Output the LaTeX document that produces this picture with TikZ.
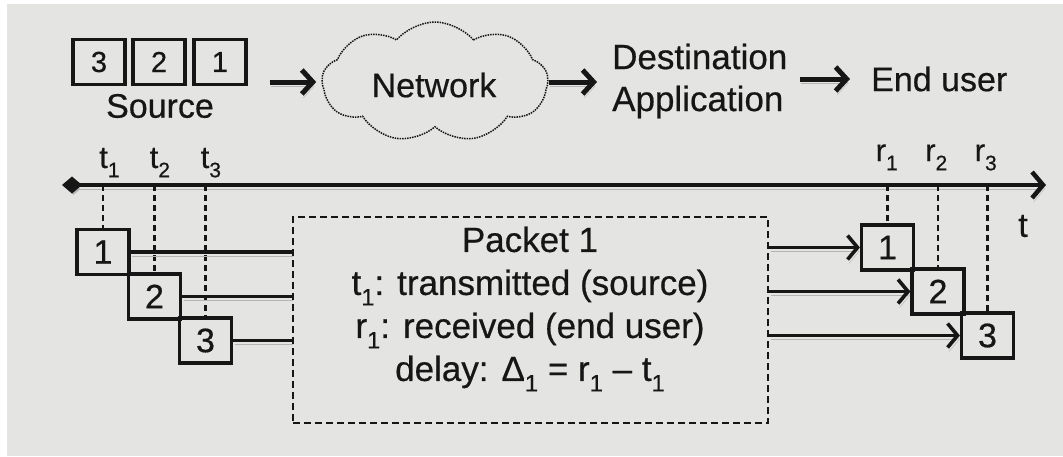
\documentclass[tikz,border=0pt]{standalone}
\usepackage{fontspec}
\setmainfont{Liberation Sans}[FakeBold=0.5]
\usetikzlibrary{arrows.meta,shapes.symbols}
\definecolor{paper}{HTML}{E4E4E2}
\definecolor{ink}{HTML}{161616}
\definecolor{halftone}{HTML}{B4B4B2}
% lowered, smaller index digit
\newcommand\lsub[1]{\raisebox{-0.3em}{\scalebox{0.68}{#1}}}

\begin{document}
\begin{tikzpicture}[x=1pt,y=-1pt,
  every node/.style={text=ink, font=\fontsize{34}{40}\selectfont},
  shade/.style={preaction={draw=halftone, transform canvas={shift={(1.5pt,-4pt)}}}},
  pkt/.style={draw=ink, line width=3.2pt, minimum width=52pt, minimum height=45pt, inner sep=0pt},
  srcpkt/.style={pkt, font=\fontsize{29}{32}\selectfont},
  bigarrow/.style={draw=ink, line width=5pt, -{Straight Barb[length=11pt,width=24pt]}, shade},
  axisline/.style={draw=ink, line width=4.5pt, {Diamond[length=20pt,width=17pt]}-{Straight Barb[length=11pt,width=26pt]}, shade},
  tick/.style={draw=ink, line width=2.6pt, dash pattern=on 6pt off 4pt},
  ticklabel/.style={font=\fontsize{31}{34}\selectfont, inner sep=0pt},
  conn/.style={draw=ink, line width=3.2pt, shade},
  rarrow/.style={draw=ink, line width=3.6pt, -{Straight Barb[length=10pt,width=24pt]}, shade},
  boxframe/.style={draw=ink, line width=2.6pt, dash pattern=on 7pt off 4pt, minimum width=475pt, minimum height=206pt, inner sep=0pt}
]
\useasboundingbox (0,0) rectangle (1063,456);
\fill[white] (0,0) rectangle (1063,456);
\fill[paper] (7,4) rectangle (1063,456);

% ---- top row: source, network, destination, end user
\node[srcpkt] (s3) at (99,62) {3};
\node[srcpkt] (s2) at (159,62) {2};
\node[srcpkt] (s1) at (220,62) {1};
\node[inner sep=0pt] (src) at (160,106) {Source};

\node[cloud, cloud puffs=9, cloud puff arc=100, aspect=1.9, draw=ink,
      densely dotted, line width=1.5pt, minimum width=226pt, minimum height=120pt,
      inner sep=0pt] (net) at (435,82) {};
\node (nettext) at (434,85) {Network};

\node[anchor=west, align=left, inner sep=0pt, font=\fontsize{35}{42}\selectfont] (dest) at (612,81) {Destination\\Application};
\node[anchor=west, inner sep=0pt] (user) at (871,79) {End user};

\draw[bigarrow, shorten <=22pt, shorten >=5pt] (s1.east |- net.west) -- (net.west);
\draw[bigarrow, shorten >=15pt] (net.east) -- (dest.west |- net.east);
\draw[bigarrow, shorten <=12pt, shorten >=21pt] (dest.east |- user.west) -- (user.west);

% ---- time axis
\coordinate (ax0) at (62,185);
\coordinate (ax1) at (1046,185);
\draw[axisline] (ax0) -- (ax1);
\node (tname) at (1023,226) {t};

% ---- packets leaving the source
\node[pkt] (b1) at (103,252) {1};
\node[pkt] (b2) at (154.5,296.5) {2};
\node[pkt] (b3) at (205.5,340.5) {3};

% ---- packets reaching the end user
\node[pkt] (e1) at (887.5,247.5) {1};
\node[pkt] (e2) at (938,291.5) {2};
\node[pkt] (e3) at (987.5,335.5) {3};

% ---- instants on the axis
\foreach \b in {b1,b2,b3,e1,e2,e3} {
  \draw[tick] (\b.north |- ax0) -- (\b.north);
}
\node[ticklabel, anchor=base west] (lt1) at (99,168) {t\lsub{1}};
\node[ticklabel, anchor=base west] (lt2) at (149.5,168) {t\lsub{2}};
\node[ticklabel, anchor=base west] (lt3) at (200.5,168) {t\lsub{3}};
\node[ticklabel, anchor=base west] (lr1) at (875.5,161) {r\lsub{1}};
\node[ticklabel, anchor=base west] (lr2) at (925,161) {r\lsub{2}};
\node[ticklabel, anchor=base west] (lr3) at (974.5,161) {r\lsub{3}};

% ---- packet description
\node[boxframe] (pk) at (530.5,320) {};
\node[align=center, inner sep=0pt, font=\fontsize{35}{43}\selectfont] (info) at (530,309)
  {Packet 1\\
   t\lsub{1}: transmitted (source)\\
   r\lsub{1}: received (end user)\\
   delay: Δ\lsub{1} = r\lsub{1} – t\lsub{1}};

\draw[conn] (b1.east) -- (b1.east -| pk.west);
\draw[conn] (b2.east) -- (b2.east -| pk.west);
\draw[conn] (b3.east) -- (b3.east -| pk.west);

\draw[rarrow] (e1.west -| pk.east) -- (e1.west);
\draw[rarrow] (e2.west -| pk.east) -- (e2.west);
\draw[rarrow] (e3.west -| pk.east) -- (e3.west);
\end{tikzpicture}
\end{document}
